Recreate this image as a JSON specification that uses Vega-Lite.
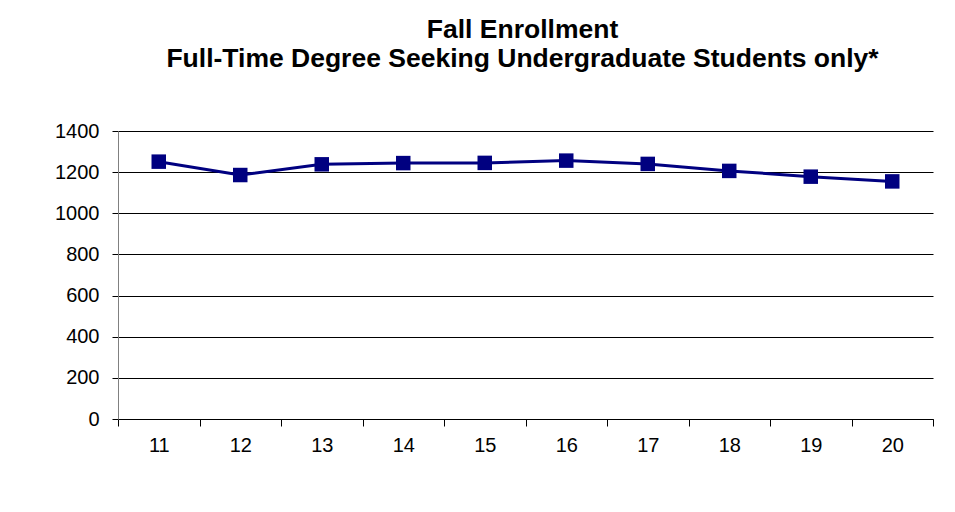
{
  "$schema": "https://vega.github.io/schema/vega-lite/v6.json",
  "width": 815,
  "height": 288,
  "autosize": {"type": "none"},
  "padding": {"left": 118, "top": 131, "right": 22, "bottom": 93},
  "background": "white",
  "config": {
    "view": {"stroke": null},
    "font": "Liberation Sans"
  },
  "title": {
    "text": ["Fall Enrollment", "Full-Time Degree Seeking Undergraduate Students only*"],
    "fontSize": 26.5,
    "fontWeight": "bold",
    "font": "Liberation Sans",
    "color": "black",
    "anchor": "middle",
    "lineHeight": 29,
    "offset": 49,
    "dx": -3
  },
  "data": {
    "values": [
      {"year": "11", "enrollment": 1251},
      {"year": "12", "enrollment": 1186},
      {"year": "13", "enrollment": 1238},
      {"year": "14", "enrollment": 1244},
      {"year": "15", "enrollment": 1245},
      {"year": "16", "enrollment": 1256},
      {"year": "17", "enrollment": 1240},
      {"year": "18", "enrollment": 1206},
      {"year": "19", "enrollment": 1178},
      {"year": "20", "enrollment": 1155}
    ]
  },
  "encoding": {
    "x": {
      "field": "year",
      "type": "ordinal",
      "scale": {"type": "band", "paddingInner": 0, "paddingOuter": 0},
      "axis": {
        "title": null,
        "labelAngle": 0,
        "labelFontSize": 20,
        "labelColor": "black",
        "labelPadding": 9,
        "tickBand": "extent",
        "tickColor": "black",
        "tickSize": 7,
        "domainColor": "black",
        "grid": false
      }
    },
    "y": {
      "field": "enrollment",
      "type": "quantitative",
      "scale": {"domain": [0, 1400]},
      "axis": {
        "title": null,
        "values": [0, 200, 400, 600, 800, 1000, 1200, 1400],
        "format": "d",
        "labelFontSize": 20,
        "labelColor": "black",
        "labelPadding": 13,
        "tickColor": "black",
        "tickSize": 6,
        "domainColor": "#808080",
        "gridColor": "black",
        "gridOpacity": 1,
        "grid": true
      }
    }
  },
  "layer": [
    {
      "mark": {"type": "line", "color": "#000080", "strokeWidth": 3}
    },
    {
      "mark": {"type": "point", "shape": "square", "filled": true, "color": "#000080", "size": 210, "opacity": 1}
    }
  ]
}
